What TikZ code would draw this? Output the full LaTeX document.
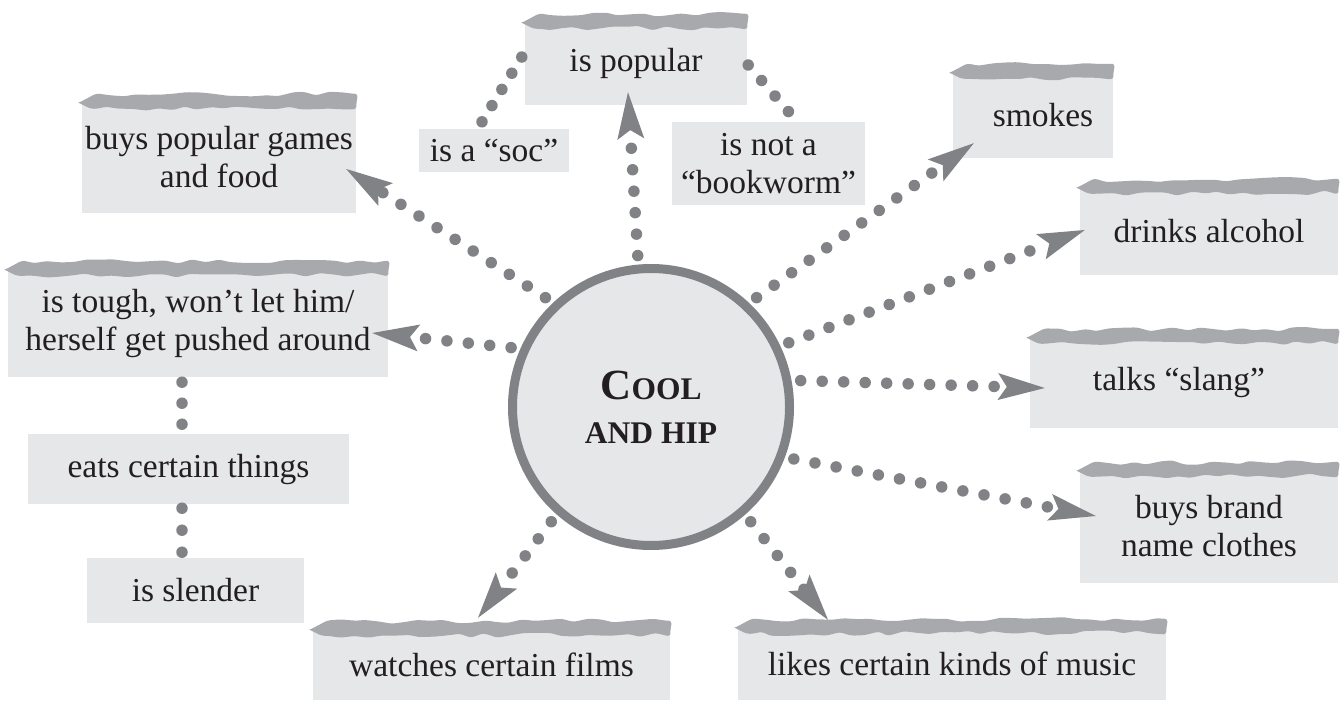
\documentclass[tikz,border=0pt]{standalone}
\usepackage{fontspec}
\setmainfont{Liberation Serif}
\usetikzlibrary{arrows.meta,calc,decorations.pathmorphing}

\definecolor{boxgray}{HTML}{E6E7E8}
\definecolor{stripgray}{HTML}{A7A9AC}
\definecolor{dotgray}{HTML}{808285}
\definecolor{ink}{HTML}{231F20}

% ragged paper strip along the top edge of a card
\newcommand\tornstrip[1]{%
  \fill[stripgray, decorate,
        decoration={random steps, segment length=13pt, amplitude=2.4pt},
        rounded corners=3pt]
    ($(#1.north west)+(-3,1)$) -- ($(#1.north west)+(12,-7)$)
    -- ($(#1.north east)+(0,-8)$) -- ($(#1.north east)+(0,6)$)
    -- ($(#1.north west)+(12,7)$) -- cycle;}

\begin{document}
\begin{tikzpicture}[x=1pt,y=-1pt,
  card/.style={fill=boxgray, text=ink, inner sep=0pt, align=center,
               font=\fontsize{33.5}{38}\selectfont},
  dotline/.style={draw=dotgray, line width=11.5pt, line cap=round,
                  dash pattern=on 0pt off #1},
  dotline/.default=21.5pt,
  toarrow/.style={-{Stealth[length=47pt,width=27pt,inset=9pt,line width=0pt]}}
]
\pgfmathsetseed{1342}
\useasboundingbox (0,0) rectangle (1342,701);

% cards
\node[card, minimum width=222pt, minimum height=83pt]  (popular)  at (636,63.5)   {is popular};
\node[card, minimum width=150pt, minimum height=43pt]  (soc)      at (494,150.5)  {is a “soc”};
\node[card, minimum width=193pt, minimum height=83pt]  (bookworm) at (768.5,163.5) {is not a\\“bookworm”};
\node[card, minimum width=274pt, minimum height=111pt] (buypop)   at (219,157.5)  {buys popular games\\and food};
\node[card, minimum width=160pt, minimum height=86pt]  (smokes)   at (1033,115)   {\hspace*{20pt}smokes};
\node[card, minimum width=258pt, minimum height=88pt]  (drinks)   at (1209,231)   {drinks alcohol};
\node[card, minimum width=380pt, minimum height=108pt] (tough)    at (198,323)    {is tough, won’t let him/\\herself get pushed around};
\node[card, minimum width=308pt, minimum height=91pt]  (slang)    at (1184,382.5) {talks “slang”\hspace*{10pt}};
\node[card, minimum width=321pt, minimum height=70pt]  (eats)     at (188.5,469)  {eats certain things};
\node[card, minimum width=217pt, minimum height=65pt]  (slender)  at (195.5,590.5) {is slender};
\node[card, minimum width=258pt, minimum height=113pt] (brand)    at (1209,526.5) {buys brand\\name clothes};
\node[card, minimum width=357pt, minimum height=71pt]  (watches)  at (491.5,664.5) {watches certain films};
\node[card, minimum width=428pt, minimum height=73pt]  (music)    at (952,663.5)  {likes certain kinds of music};

\foreach \c in {popular,buypop,smokes,drinks,tough,slang,brand,watches,music}
  {\tornstrip{\c}}

% central circle
\node[circle, fill=boxgray, draw=dotgray, line width=9pt, minimum size=277pt,
      inner sep=0pt, outer sep=13.5pt, text=ink, align=center,
      font=\bfseries\fontsize{31.5}{44}\selectfont] (hub) at (651,407)
      {{\fontsize{43}{44}\selectfont C}OOL\\AND HIP};

% arrows out of the circle
\draw[dotline, toarrow] (hub.95)  -- ($(popular.south)+(-8,-13)$);
\draw[dotline, toarrow] (hub.134) -- ($(buypop.east)+(-10,11.5)$);
\draw[dotline, toarrow] (hub.157) -- ($(tough.east)+(-16,10)$);
\draw[dotline, toarrow] (hub.46)  -- ($(smokes.south west)+(21,-15)$);
\draw[dotline, toarrow] (hub.25)  -- ($(drinks.west)+(5,-1)$);
\draw[dotline, toarrow] (hub.10)  -- ($(slang.west)+(15,5.5)$);
\draw[dotline, toarrow] (hub.-20) -- ($(brand.west)+(16,-10.5)$);
\draw[dotline, toarrow] (hub.229) -- ($(watches.north)+(-13.5,-11)$);
\draw[dotline, toarrow] (hub.311) -- ($(music.north)+(-124,-7)$);

% plain dotted links
\draw[dotline=19pt]   ($(soc.north)+(-12,-7)$)    -- ($(popular.west)+(-3,-6.5)$);
\draw[dotline=20.5pt] ($(popular.east)+(1,1.5)$)  -- ($(bookworm.north)+(21,-9)$);
\draw[dotline=21pt]   ($(tough.south)+(-16,5)$)   -- ($(eats.north)+(-6.5,-9.5)$);
\draw[dotline=22pt]   ($(eats.south)+(-6.5,4)$)   -- ($(slender.north)+(-13.5,-5.5)$);
\end{tikzpicture}
\end{document}
